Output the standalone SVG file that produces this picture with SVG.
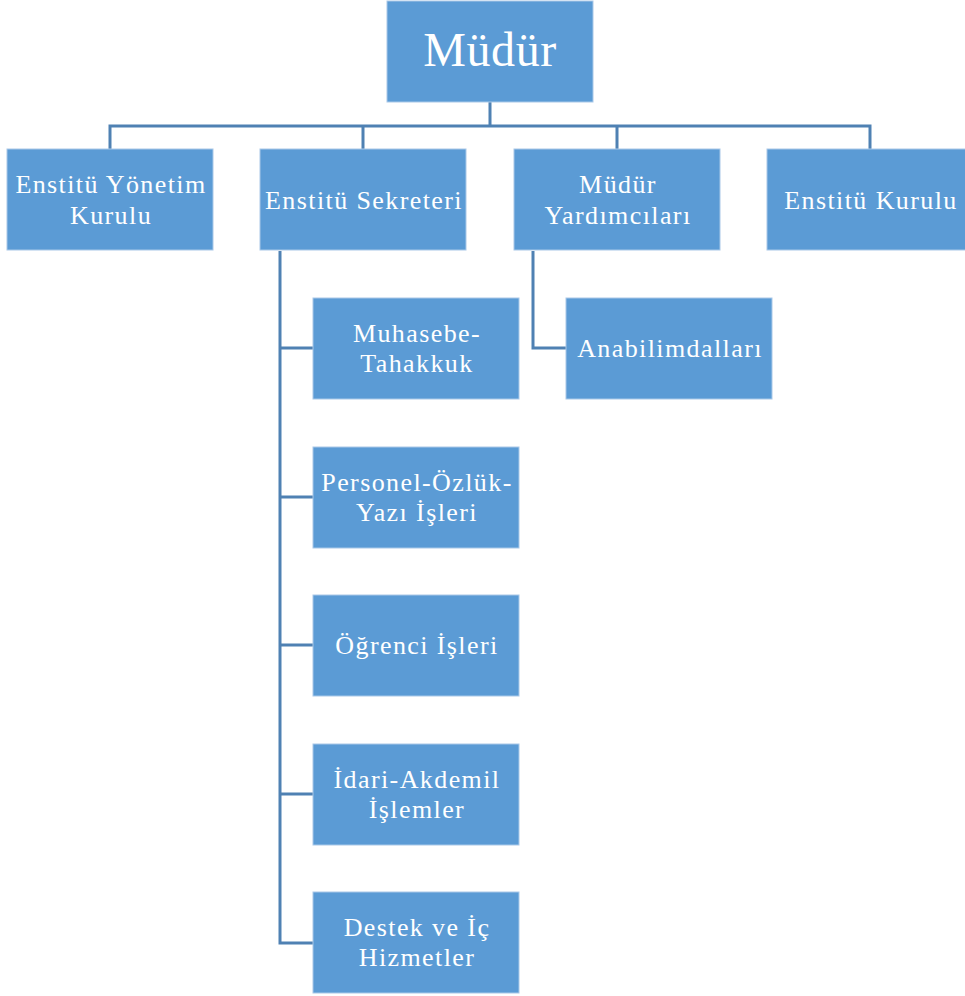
<svg xmlns="http://www.w3.org/2000/svg" width="965" height="996" viewBox="0 0 965 996">
<style>
.box{fill:#5b9bd5;stroke:#a9c8e8;stroke-width:1}
.t{font-family:"Liberation Serif","Times New Roman",serif;font-size:26px;letter-spacing:1.4px;fill:#ffffff;text-anchor:middle}
.big{font-size:48px;letter-spacing:0.6px}
.c{fill:none;stroke:#4f81b3;stroke-width:3}
</style>
<rect width="965" height="996" fill="#ffffff"/>
<g id="connectors">
<path class="c" d="M490,102V126M110,149V126H870V149M363,126V149M617,126V149"/>
<path class="c" d="M280,251V943H313M280,348H313M280,497H313M280,645H313M280,794H313"/>
<path class="c" d="M533,251V348H566"/>
</g>
<g id="mudur"><rect class="box" x="387" y="1" width="206" height="101"/><text class="t big" x="490" y="66">Müdür</text></g>
<g id="yonetim"><rect class="box" x="7" y="149" width="206" height="101"/><text class="t" x="111" y="193">Enstitü Yönetim</text><text class="t" x="111" y="224">Kurulu</text></g>
<g id="sekreter"><rect class="box" x="260" y="149" width="206" height="101"/><text class="t" x="364" y="209">Enstitü Sekreteri</text></g>
<g id="yardimci"><rect class="box" x="514" y="149" width="206" height="101"/><text class="t" x="618" y="193">Müdür</text><text class="t" x="618" y="224">Yardımcıları</text></g>
<g id="kurul"><rect class="box" x="767" y="149" width="206" height="101"/><text class="t" x="871" y="209">Enstitü Kurulu</text></g>
<g id="muhasebe"><rect class="box" x="313" y="298" width="206" height="101"/><text class="t" x="417" y="342">Muhasebe-</text><text class="t" x="417" y="372">Tahakkuk</text></g>
<g id="personel"><rect class="box" x="313" y="447" width="206" height="101"/><text class="t" x="417" y="491">Personel-Özlük-</text><text class="t" x="417" y="521">Yazı İşleri</text></g>
<g id="ogrenci"><rect class="box" x="313" y="595" width="206" height="101"/><text class="t" x="417" y="654">Öğrenci İşleri</text></g>
<g id="idari"><rect class="box" x="313" y="744" width="206" height="101"/><text class="t" x="417" y="788">İdari-Akdemil</text><text class="t" x="417" y="818">İşlemler</text></g>
<g id="destek"><rect class="box" x="313" y="892" width="206" height="101"/><text class="t" x="417" y="936">Destek ve İç</text><text class="t" x="417" y="966">Hizmetler</text></g>
<g id="anabilim"><rect class="box" x="566" y="298" width="206" height="101"/><text class="t" x="670" y="357">Anabilimdalları</text></g>
</svg>
